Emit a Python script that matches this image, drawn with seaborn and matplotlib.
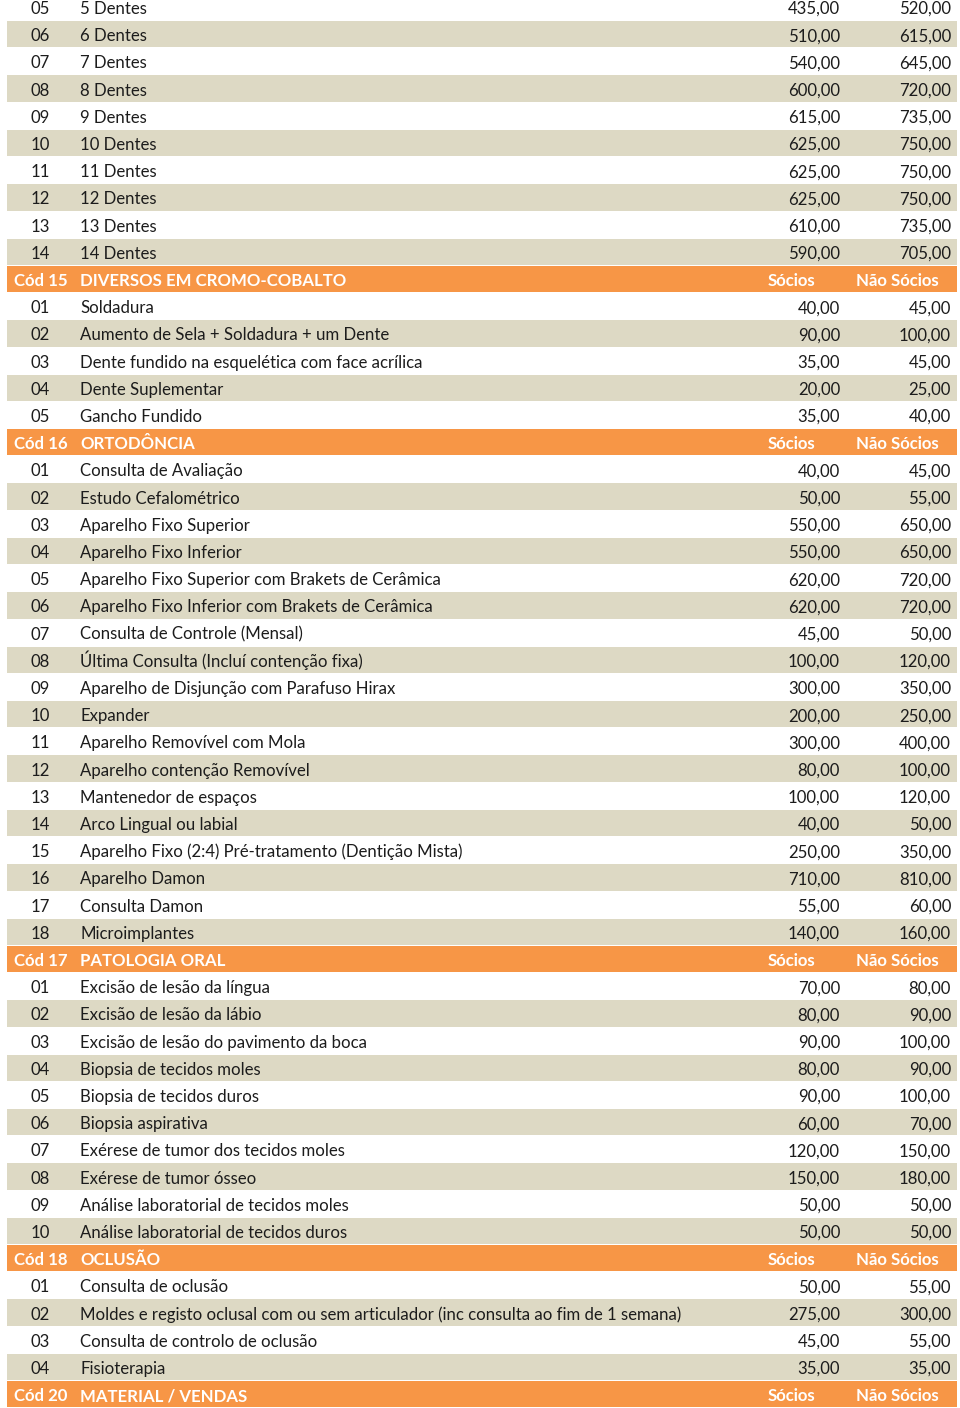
import pandas as pd
import matplotlib
matplotlib.use("Agg")
import matplotlib.pyplot as plt
import seaborn as sns

# price table values
top_codes = ['05', '06', '07', '08', '09', '10', '11', '12', '13', '14']
top_desc = ['5 Dentes', '6 Dentes', '7 Dentes', '8 Dentes', '9 Dentes',
            '10 Dentes', '11 Dentes', '12 Dentes', '13 Dentes', '14 Dentes']
top_socios = [435, 510, 540, 600, 615, 625, 625, 625, 610, 590]
top_nao = [520, 615, 645, 720, 735, 750, 750, 750, 735, 705]

cromo_desc = ['Soldadura', 'Aumento de Sela + Soldadura + um Dente',
              'Dente fundido na esquelética com face acrílica',
              'Dente Suplementar', 'Gancho Fundido']
cromo_socios = [40, 90, 35, 20, 35]
cromo_nao = [45, 100, 45, 25, 40]

orto_desc = ['Consulta de Avaliação', 'Estudo Cefalométrico',
             'Aparelho Fixo Superior', 'Aparelho Fixo Inferior',
             'Aparelho Fixo Superior com Brakets de Cerâmica',
             'Aparelho Fixo Inferior com Brakets de Cerâmica',
             'Consulta de Controle (Mensal)',
             'Última Consulta (Incluí contenção fixa)',
             'Aparelho de Disjunção com Parafuso Hirax', 'Expander',
             'Aparelho Removível com Mola', 'Aparelho contenção Removível',
             'Mantenedor de espaços', 'Arco Lingual ou labial',
             'Aparelho Fixo (2:4) Pré-tratamento (Dentição Mista)',
             'Aparelho Damon', 'Consulta Damon', 'Microimplantes']
orto_socios = [40, 50, 550, 550, 620, 620, 45, 100, 300, 200, 300, 80, 100, 40,
               250, 710, 55, 140]
orto_nao = [45, 55, 650, 650, 720, 720, 50, 120, 350, 250, 400, 100, 120, 50,
            350, 810, 60, 160]

pato_desc = ['Excisão de lesão da língua', 'Excisão de lesão da lábio',
             'Excisão de lesão do pavimento da boca', 'Biopsia de tecidos moles',
             'Biopsia de tecidos duros', 'Biopsia aspirativa',
             'Exérese de tumor dos tecidos moles', 'Exérese de tumor ósseo',
             'Análise laboratorial de tecidos moles',
             'Análise laboratorial de tecidos duros']
pato_socios = [70, 80, 90, 80, 90, 60, 120, 150, 50, 50]
pato_nao = [80, 90, 100, 90, 100, 70, 150, 180, 50, 50]

oclu_desc = ['Consulta de oclusão',
             'Moldes e registo oclusal com ou sem articulador (inc consulta ao fim de 1 semana)',
             'Consulta de controlo de oclusão', 'Fisioterapia']
oclu_socios = [50, 275, 45, 35]
oclu_nao = [55, 300, 55, 35]

section_codes = ['Cód 15', 'Cód 16', 'Cód 17', 'Cód 18', 'Cód 20']
section_titles = ['DIVERSOS EM CROMO-COBALTO', 'ORTODÔNCIA', 'PATOLOGIA ORAL',
                  'OCLUSÃO', 'MATERIAL / VENDAS']
header_cols = ['Sócios', 'Não Sócios']


def money(v):
    return f'{v:.2f}'.replace('.', ',')


# build one row list: header rows and item rows
rows = []
for c, d, s, n in zip(top_codes, top_desc, top_socios, top_nao):
    rows.append(dict(kind='tan' if int(c) % 2 == 0 else 'white',
                     code=c, desc=d, s=money(s), n=money(n)))

sections = [(cromo_desc, cromo_socios, cromo_nao),
            (orto_desc, orto_socios, orto_nao),
            (pato_desc, pato_socios, pato_nao),
            (oclu_desc, oclu_socios, oclu_nao),
            ([], [], [])]
for (descs, soc, nao), code, title in zip(sections, section_codes, section_titles):
    rows.append(dict(kind='header', code=code, desc=title,
                     s=header_cols[0], n=header_cols[1]))
    for i, (d, s, n) in enumerate(zip(descs, soc, nao), start=1):
        rows.append(dict(kind='tan' if i % 2 == 0 else 'white',
                         code=f'{i:02d}', desc=d, s=money(s), n=money(n)))

df = pd.DataFrame(rows)
df['row'] = range(len(df))
df['span'] = 950

sns.set_theme(style='white')
plt.rcParams['font.family'] = ['Lato', 'DejaVu Sans']

fig = plt.figure(figsize=(9.6, 14.08), dpi=100)
ax = fig.add_axes([7 / 960, 0, 950 / 960, 1])

palette = {'header': '#F79646', 'tan': '#DDD9C4', 'white': '#FFFFFF'}
sns.barplot(data=df, x='span', y='row', hue='kind', palette=palette,
            orient='h', dodge=False, width=0.97, errorbar=None, saturation=1,
            legend=False, linewidth=0, ax=ax)

pitch = 27.2
top = -7 / pitch
ax.set_ylim(top + 1408 / pitch, top)
ax.set_xlim(0, 950)
ax.axis('off')

fs = 12.1
ink = '#1c1c1c'
for _, r in df.iterrows():
    y = r['row'] + 0.26
    if r['kind'] == 'header':
        kw = dict(color='white', fontweight='bold', fontsize=fs, va='baseline')
        ax.text(7, y, r['code'], ha='left', **kw)
        ax.text(73, y, r['desc'], ha='left', **kw)
        ax.text(784, y, r['s'], ha='center', **kw)
        ax.text(890, y, r['n'], ha='center', **kw)
    else:
        kw = dict(color=ink, fontsize=fs, va='baseline')
        ax.text(33, y, r['code'], ha='center', **kw)
        ax.text(73, y, r['desc'], ha='left', **kw)
        ax.text(833, y, r['s'], ha='right', **kw)
        ax.text(944, y, r['n'], ha='right', **kw)

fig.savefig('out.png', dpi=100, facecolor='white')
